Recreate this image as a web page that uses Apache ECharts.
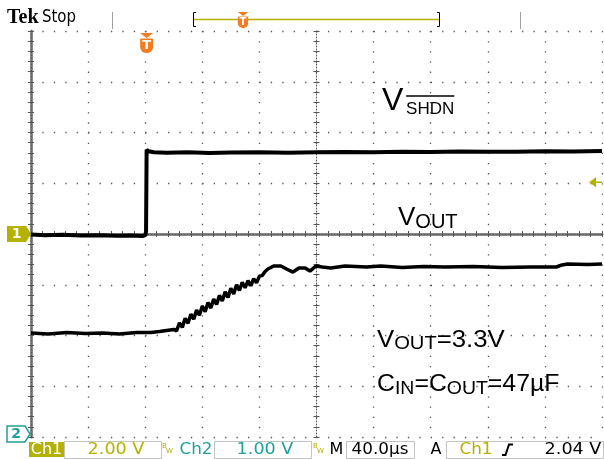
<!DOCTYPE html>
<html>
<head>
<meta charset="utf-8">
<title>VSHDN / VOUT start-up capture</title>
<script src="https://cdn.jsdelivr.net/npm/echarts@6/dist/echarts.min.js"></script>
<style>
  html, body { margin: 0; padding: 0; background: #fff; }
  #scope { width: 604px; height: 459px; }
</style>
</head>
<body>
<div id="scope"></div>
<script>
// scope settings (from the status bar)
const usPerDiv = 40.0;
const ch1VoltsPerDiv = 2.00;
const ch2VoltsPerDiv = 1.00;
const ch1GroundDiv = 0;    // Ch1 marker sits on the centre line
const ch2GroundDiv = -4;   // Ch2 marker sits on the bottom line
const trigLevel = 2.04;    // V, Ch1 rising edge
const triggerTime = 81;    // µs from the left edge of the screen

const timeTicks = [0, 40, 80, 120, 160, 200, 240, 280, 320, 360, 400];
const divTicks = [-4, -3, -2, -1, 0, 1, 2, 3, 4];

// Ch1: V SHDN (volts vs µs)
const shdnTime = [0, 10, 22, 35, 48, 60, 70, 78, 80.2, 80.6, 81.0, 82.5, 86, 95, 110, 125, 140, 160, 180, 200, 220, 240, 260, 280, 300, 320, 340, 360, 380, 400];
const shdnVolts = [-0.02, -0.05, -0.03, -0.06, -0.05, -0.07, -0.06, -0.08, -0.04, 0.12, 3.32, 3.26, 3.22, 3.20, 3.22, 3.19, 3.21, 3.22, 3.20, 3.22, 3.23, 3.22, 3.24, 3.23, 3.25, 3.24, 3.24, 3.26, 3.25, 3.27];

// Ch2: VOUT (volts vs µs), ramp section read as upper/lower edges of the noisy band
const voutTime = [0, 12, 25, 38, 50, 62, 74, 84, 90, 95, 100, 102, 104, 106, 108, 110, 112, 114, 116, 118, 120, 122, 124, 126, 128, 130, 132, 134, 136, 138, 140, 142, 144, 146, 148, 150, 152, 154, 156, 158, 160, 162, 164, 166, 170, 175, 179, 183.5, 187.7, 192, 195.4, 199.6, 204, 210, 220, 235, 245, 260, 275, 290, 310, 330, 350, 368, 372, 376, 390, 400];
const voutVolts = [2.05, 2.03, 2.06, 2.04, 2.05, 2.03, 2.06, 2.06, 2.08, 2.10, 2.12, 2.09, 2.25, 2.16, 2.34, 2.24, 2.42, 2.32, 2.50, 2.40, 2.58, 2.47, 2.65, 2.54, 2.72, 2.61, 2.79, 2.68, 2.86, 2.75, 2.93, 2.82, 3.00, 2.89, 3.05, 2.94, 3.08, 2.98, 3.12, 3.04, 3.17, 3.18, 3.26, 3.31, 3.37, 3.37, 3.31, 3.25, 3.33, 3.33, 3.27, 3.37, 3.35, 3.33, 3.37, 3.35, 3.37, 3.34, 3.36, 3.35, 3.36, 3.34, 3.35, 3.35, 3.39, 3.41, 3.40, 3.41];

const OLIVE = '#b5b100';
const TEAL = '#1f9f9f';
const ORANGE = '#f47b20';
const GRID_DOT = '#555';
const BORDER = '#8a8a8a';
const SANS = '"Liberation Sans", Arial, sans-serif';
const UI = '"DejaVu Sans", sans-serif';

const chart = echarts.init(document.getElementById('scope'));

const toDivs = (times, volts, vPerDiv, ground) =>
  times.map((t, i) => [t, volts[i] / vPerDiv + ground]);

const tickStyle = { show: true, inside: true, length: 3, lineStyle: { color: GRID_DOT } };
const minorStyle = { show: true, splitNumber: 5, length: 3, lineStyle: { color: GRID_DOT } };
const noLabel = { show: false };
const dotted = { show: true, lineStyle: { color: GRID_DOT, type: [1, 2] } };

function xAx(extra) {
  return Object.assign({
    type: 'value', min: timeTicks[0], max: timeTicks[timeTicks.length - 1],
    interval: usPerDiv, axisLabel: noLabel, splitLine: { show: false },
    axisTick: tickStyle, minorTick: minorStyle
  }, extra);
}
function yAx(extra) {
  return Object.assign({
    type: 'value', min: divTicks[0], max: divTicks[divTicks.length - 1],
    interval: 1, axisLabel: noLabel, splitLine: { show: false },
    axisTick: tickStyle, minorTick: minorStyle
  }, extra);
}

const option = {
  animation: false,
  backgroundColor: '#fff',
  grid: { left: 31, top: 31, width: 571, height: 406, show: false },
  xAxis: [
    xAx({ position: 'bottom', axisLine: dotted,
      splitLine: { show: true, lineStyle: { color: GRID_DOT, width: 1.3, type: [1.3, 8.85] } } }),
    xAx({ position: 'top', axisLine: { show: true, lineStyle: { color: BORDER, width: 3 } } }),
    xAx({ position: 'bottom', offset: -203, axisLine: dotted }),
    xAx({ position: 'top', offset: -203, axisLine: { show: false } })
  ],
  yAxis: [
    yAx({ position: 'left', axisLine: { show: true, lineStyle: { color: BORDER, width: 3 } },
      splitLine: { show: true, lineStyle: { color: GRID_DOT, width: 1.3, type: [1.3, 10.12] } } }),
    yAx({ position: 'right', axisLine: dotted }),
    yAx({ position: 'left', offset: -285.5, axisLine: dotted }),
    yAx({ position: 'right', offset: -285.5, axisLine: { show: false } })
  ],
  series: [
    {
      name: 'V SHDN', type: 'line', xAxisIndex: 0, yAxisIndex: 0,
      data: toDivs(shdnTime, shdnVolts, ch1VoltsPerDiv, ch1GroundDiv),
      showSymbol: false, symbol: 'none',
      lineStyle: { color: '#000', width: 4 }, z: 10
    },
    {
      name: 'VOUT', type: 'line', xAxisIndex: 0, yAxisIndex: 0,
      data: toDivs(voutTime, voutVolts, ch2VoltsPerDiv, ch2GroundDiv),
      showSymbol: false, symbol: 'none',
      lineStyle: { color: '#000', width: 3.5 }, z: 10
    }
  ]
};
chart.setOption(option);

// ---- text + scope furniture ----
const measureCtx = document.createElement('canvas').getContext('2d');
function measure(txt, font) { measureCtx.font = font; return measureCtx.measureText(txt).width; }

function text(x, y, t, font, fill, align, sx) {
  return {
    type: 'text', x: x, y: y, scaleX: sx || 1, z: 100,
    style: { text: t, font: font, fill: fill || '#000', align: align || 'left', verticalAlign: 'middle',
      textAlign: align || 'left', textVerticalAlign: 'middle' }
  };
}

// lay out "V" + subscript style runs left to right
function textRun(x, y, parts, sx) {
  const out = [];
  let cx = x;
  parts.forEach(p => {
    const font = p.size + 'px ' + SANS;
    out.push(text(cx, y + (p.dy || 0), p.t, font, '#000', 'left', sx));
    p.x0 = cx;
    p.w = measure(p.t, font) * (sx || 1);
    cx += p.w;
  });
  return out;
}

function trigMarker(g, x, top, s) {
  g.push({ type: 'polygon', z: 96, shape: { points: [[x - 6.5 * s, top], [x + 6.5 * s, top], [x, top + 5 * s]] }, style: { fill: ORANGE } });
  g.push({ type: 'rect', z: 96, shape: { x: x - 6.5 * s, y: top + 5.5 * s, width: 13 * s, height: 14.5 * s, r: [1, 1, 6 * s, 6 * s] }, style: { fill: ORANGE } });
  g.push(text(x, top + 12.5 * s, 'T', 'bold ' + Math.round(13 * s) + 'px ' + UI, '#fff', 'center'));
}

function buildGraphics() {
  const px = (t, d) => chart.convertToPixel({ xAxisIndex: 0, yAxisIndex: 0 }, [t, d]);
  const g = [];

  // header
  g.push(text(7, 18, 'Tek', 'bold 20px "Liberation Serif", serif', '#000'));
  g.push(text(42, 17.5, 'Stop', '17px ' + UI, '#000', 'left', 0.88));
  [112, 520].forEach(x => g.push({ type: 'line', z: 90, shape: { x1: x + 0.5, y1: 12, x2: x + 0.5, y2: 29 }, style: { stroke: '#a0a0a0', lineWidth: 1 } }));
  g.push({ type: 'polyline', z: 90, shape: { points: [[196, 12.5], [193.5, 12.5], [193.5, 26.5], [196, 26.5]] }, style: { stroke: '#000', lineWidth: 1, fill: null } });
  g.push({ type: 'polyline', z: 90, shape: { points: [[437, 12.5], [439.5, 12.5], [439.5, 26.5], [437, 26.5]] }, style: { stroke: '#000', lineWidth: 1, fill: null } });
  g.push({ type: 'line', z: 90, shape: { x1: 194, y1: 19.5, x2: 439, y2: 19.5 }, style: { stroke: OLIVE, lineWidth: 1.5 } });
  trigMarker(g, 243, 12, 0.8);

  // trigger position marker, drawn at trigger time on top edge
  const tp = px(triggerTime, divTicks[divTicks.length - 1]);
  trigMarker(g, tp[0], tp[1] + 2, 1);

  // Ch1 ground marker
  const c1 = px(timeTicks[0], ch1GroundDiv);
  g.push({ type: 'polygon', z: 95, shape: { points: [[7, c1[1] - 8], [26, c1[1] - 8], [31, c1[1]], [26, c1[1] + 8], [7, c1[1] + 8]] }, style: { fill: OLIVE } });
  g.push(text(16.5, c1[1] + 0.5, '1', 'bold 14px ' + UI, '#fff', 'center'));

  // Ch2 ground marker (held inside the screen)
  const c2 = px(timeTicks[0], ch2GroundDiv);
  const y2 = Math.min(c2[1], 434);
  g.push({ type: 'polygon', z: 95, shape: { points: [[7, y2 - 8], [25, y2 - 8], [30, y2], [25, y2 + 8], [7, y2 + 8]] }, style: { fill: '#fff', stroke: TEAL, lineWidth: 1.5 } });
  g.push(text(16, y2 + 0.5, '2', 'bold 14px ' + UI, TEAL, 'center'));

  // trigger level arrow on right edge
  const tl = px(timeTicks[timeTicks.length - 1], trigLevel / ch1VoltsPerDiv + ch1GroundDiv);
  g.push({ type: 'polygon', z: 95, shape: { points: [[589, tl[1]], [596, tl[1] - 5], [596, tl[1] + 5]] }, style: { fill: OLIVE } });
  g.push({ type: 'line', z: 95, shape: { x1: 595, y1: tl[1], x2: 602, y2: tl[1] }, style: { stroke: OLIVE, lineWidth: 1.5 } });

  // trace labels
  const shdn = [{ t: 'V', size: 32 }, { t: ' ', size: 10 }, { t: 'SHDN', size: 17, dy: 7.5 }];
  g.push(...textRun(382, 101.5, shdn));
  g.push({ type: 'line', z: 100, shape: { x1: shdn[2].x0, y1: 96, x2: shdn[2].x0 + shdn[2].w, y2: 96 }, style: { stroke: '#000', lineWidth: 1.5 } });
  g.push(...textRun(398, 217.5, [{ t: 'V', size: 26 }, { t: 'OUT', size: 20, dy: 5 }]));
  g.push(...textRun(377, 340.5, [{ t: 'V', size: 23 }, { t: 'OUT', size: 18, dy: 4 }, { t: '=3.3V', size: 23 }], 1.12));
  g.push(...textRun(377, 385, [{ t: 'C', size: 23 }, { t: 'IN', size: 18, dy: 4 }, { t: '=C', size: 23 }, { t: 'OUT', size: 18, dy: 4 }, { t: '=47\u00b5F', size: 23 }], 1.08));

  // status bar
  const sy = 449.5;
  const uiFont = '16px ' + UI;
  g.push({ type: 'rect', z: 90, shape: { x: 29, y: 442, width: 35, height: 15 }, style: { fill: OLIVE } });
  g.push(text(46.5, sy, 'Ch1', uiFont, '#fff', 'center', 1.0));
  [[64, 97], [214, 97], [346, 68], [446, 157]].forEach(b =>
    g.push({ type: 'rect', z: 90, shape: { x: b[0] + 0.5, y: 441.5, width: b[1], height: 17 }, style: { fill: null, stroke: '#c4c4c4', lineWidth: 1 } }));
  g.push(text(116, sy, ch1VoltsPerDiv.toFixed(2) + ' V', uiFont, OLIVE, 'center', 1.1));
  g.push(text(162, 446, 'B', '7px ' + UI, OLIVE));
  g.push(text(166, 451, 'W', '7px ' + UI, OLIVE));
  g.push(text(196, sy, 'Ch2', uiFont, TEAL, 'center', 1.05));
  g.push(text(265, sy, ch2VoltsPerDiv.toFixed(2) + ' V', uiFont, TEAL, 'center', 1.1));
  g.push(text(313, 446, 'B', '7px ' + UI, OLIVE));
  g.push(text(317, 451, 'W', '7px ' + UI, OLIVE));
  g.push(text(336.5, sy, 'M', uiFont, '#000', 'center'));
  g.push(text(380, sy, usPerDiv.toFixed(1) + '\u00b5s', uiFont, '#000', 'center', 1.05));
  g.push(text(436, sy, 'A', uiFont, '#000', 'center'));
  g.push(text(476, sy, 'Ch1', uiFont, OLIVE, 'center', 1.05));
  g.push({ type: 'polyline', z: 95, shape: { points: [[502, 455], [505.5, 455], [509, 444.5], [513, 444.5]] }, style: { stroke: '#000', lineWidth: 2, fill: null } });
  g.push(text(573, sy, trigLevel.toFixed(2) + ' V', uiFont, '#000', 'center', 1.1));

  return g;
}

chart.setOption({ graphic: { elements: buildGraphics() } });
</script>
</body>
</html>
